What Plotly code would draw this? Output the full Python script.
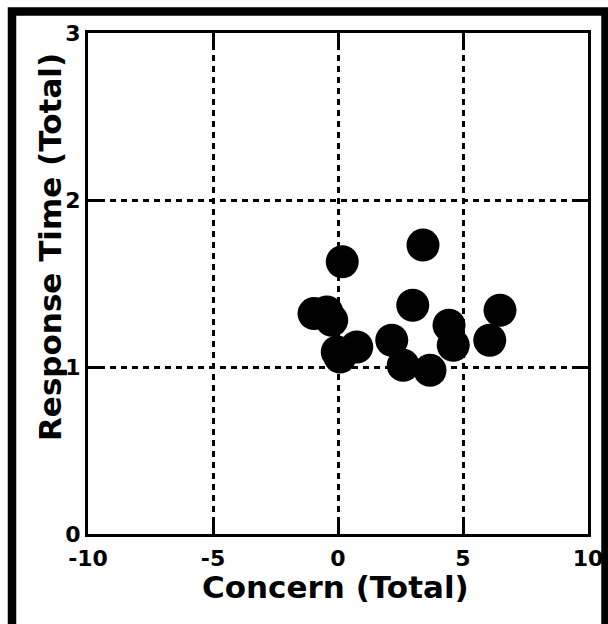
import plotly.graph_objects as go

# Data
concern = [3.40, 0.17, 2.99, 6.48, -0.96, -0.45, -0.25, -0.03, 0.08, 0.75,
           2.15, 2.61, 3.68, 4.44, 4.61, 6.07]
response_time = [1.73, 1.63, 1.37, 1.34, 1.32, 1.33, 1.28, 1.09, 1.06, 1.12,
                 1.16, 1.01, 0.98, 1.25, 1.13, 1.16]

x_ticks = [-10, -5, 0, 5, 10]
y_ticks = [0, 1, 2, 3]
x_title = "Concern (Total)"
y_title = "Response Time (Total)"

FONT = "DejaVu Sans"

fig = go.Figure()
fig.add_trace(go.Scatter(
    x=concern, y=response_time, mode="markers",
    marker=dict(size=33, color="black", line=dict(width=0)),
    showlegend=False, cliponaxis=False, hoverinfo="skip",
))

axis_common = dict(
    showline=True, linecolor="black", linewidth=3, mirror="ticks",
    ticks="inside", ticklen=11, tickwidth=3, tickcolor="black",
    showgrid=True, gridcolor="black", gridwidth=2.5, griddash="6px,5px",
    zeroline=False, automargin=False,
    tickfont=dict(family=FONT, size=22, color="black", weight="bold"),
)

fig.update_xaxes(range=[-10, 10], tickvals=x_ticks, ticktext=[str(v) for v in x_ticks],
                 ticklabelstandoff=3, **axis_common)
fig.update_yaxes(range=[0, 3], tickvals=y_ticks, ticktext=[str(v) for v in y_ticks],
                 ticklabelstandoff=0, **axis_common)

L, R, T, B = 88, 588, 33, 534
W, H = 608, 624


def px(xp):
    return (xp - L) / (R - L)


def py(yp):
    return (B - yp) / (B - T)


fig.add_annotation(text=x_title, xref="paper", yref="paper",
                   x=px(335), y=py(587), xanchor="center", yanchor="middle",
                   showarrow=False,
                   font=dict(family=FONT, size=31, color="black", weight="bold"))
fig.add_annotation(text=y_title, xref="paper", yref="paper", textangle=-90,
                   x=px(50), y=py(247), xanchor="center", yanchor="middle",
                   showarrow=False,
                   font=dict(family=FONT, size=31, color="black", weight="bold"))

# thick outer frame
fig.add_shape(type="rect", xref="paper", yref="paper",
              x0=px(12), x1=px(605.5), y0=py(660), y1=py(11.5),
              line=dict(color="black", width=8.5), fillcolor="rgba(0,0,0,0)",
              layer="above")

fig.update_layout(
    width=W, height=H,
    margin=dict(l=L, r=W - R, t=T, b=H - B, pad=0, autoexpand=False),
    paper_bgcolor="white", plot_bgcolor="white",
    hovermode=False,
)

fig.write_html("out.html",
               config={"displayModeBar": False, "responsive": False},
               post_script="document.body.style.margin='0';document.body.style.overflow='hidden';")
